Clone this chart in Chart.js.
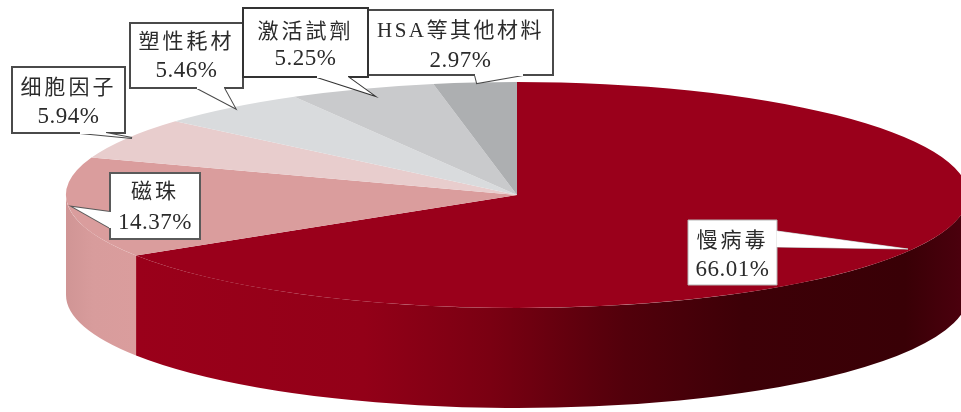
<!DOCTYPE html>
<html>
<head>
<meta charset="utf-8">
<title>3D pie</title>
<script src="https://cdn.jsdelivr.net/npm/chart.js@4"></script>
<style>
  html, body { margin: 0; padding: 0; background: #fff; }
  canvas { display: block; }
</style>
</head>
<body>
<canvas id="sharePie" width="961" height="412"></canvas>
<script>
const categories = ["慢病毒", "磁珠", "细胞因子", "塑性耗材", "激活試劑", "HSA等其他材料"];
const shares = [66.01, 14.37, 5.94, 5.46, 5.25, 2.97];
const topColors = ["#9a001b", "#da9d9d", "#e8cdcd", "#d9dbdd", "#c9cacc", "#adafb1"];

const SQUASH = 113 / 451;   // flattens the round pie into the tilted ellipse
const DEPTH = 100;          // height of the side wall

// box: x, y, w, h of the callout; tail: two base points and the tip
const callouts = [
  { box: [688, 220, 89, 65], tail: [[777, 231], [908, 249], [777, 247]], line1: 241, line2: 270, frame: "#b5b5b5", width: 1 },
  { box: [110, 173, 90, 66], tail: [[110, 212], [73, 207], [110, 228]], line1: 192, line2: 223, frame: "#5a5a5a", width: 2 },
  { box: [12, 67, 113, 66], tail: [[80, 133], [132, 138], [106, 133]], line1: 88, line2: 117, frame: "#4a4a4a", width: 2 },
  { box: [130, 23, 113, 65], tail: [[197, 88], [235, 108], [224, 88]], line1: 42, line2: 71, frame: "#4a4a4a", width: 2 },
  { box: [243, 8, 125, 69], tail: [[317, 77], [373, 95], [348, 77]], line1: 32, line2: 59, frame: "#333333", width: 2 },
  { box: [368, 10, 185, 65], tail: [[475, 75], [477, 83], [523, 75]], line1: 31, line2: 61, frame: "#4a4a4a", width: 2 }
];
// HSA goes first since the neighbouring frame overlaps it
const calloutOrder = [5, 0, 1, 2, 3, 4];

function wallGradient(ctx, index) {
  const g = ctx.createLinearGradient(66, 0, 968, 0);
  if (index === 0) {
    g.addColorStop(0.08, "#9a001a");
    g.addColorStop(0.33, "#930018");
    g.addColorStop(0.47, "#7a0012");
    g.addColorStop(0.62, "#52000b");
    g.addColorStop(0.75, "#3d0007");
    g.addColorStop(0.93, "#390006");
    g.addColorStop(1, "#4d000e");
  } else {
    g.addColorStop(0, "#d09595");
    g.addColorStop(0.03, "#d89c9c");
    g.addColorStop(0.08, "#da9d9d");
  }
  return g;
}

const tiltPlugin = {
  id: "tilt",
  beforeDatasetsDraw(chart) {
    const ctx = chart.ctx;
    const arcs = chart.getDatasetMeta(0).data;
    // side wall, only the part of each slice that faces the viewer
    arcs.forEach((arc, i) => {
      const start = Math.max(arc.startAngle, 0);
      const end = Math.min(arc.endAngle, Math.PI);
      if (end <= start) return;
      const ry = arc.outerRadius * SQUASH;
      ctx.beginPath();
      ctx.ellipse(arc.x, arc.y, arc.outerRadius, ry, 0, start, end);
      ctx.ellipse(arc.x, arc.y + DEPTH, arc.outerRadius, ry, 0, end, start, true);
      ctx.closePath();
      ctx.fillStyle = wallGradient(ctx, i);
      ctx.fill();
    });
    const cy = arcs[0].y;
    ctx.save();
    ctx.translate(0, cy);
    ctx.scale(1, SQUASH);
    ctx.translate(0, -cy);
  },
  afterDatasetsDraw(chart) {
    chart.ctx.restore();
  },
  afterDraw(chart) {
    const ctx = chart.ctx;
    calloutOrder.forEach(i => {
      const c = callouts[i];
      const [x, y, w, h] = c.box;
      ctx.beginPath();
      ctx.rect(x, y, w, h);
      ctx.fillStyle = "#fff";
      ctx.strokeStyle = c.frame;
      ctx.lineWidth = c.width;
      ctx.fill();
      ctx.stroke();
      // tail on top of the frame, white base hides the frame under it
      ctx.beginPath();
      ctx.moveTo(c.tail[0][0], c.tail[0][1]);
      ctx.lineTo(c.tail[1][0], c.tail[1][1]);
      ctx.lineTo(c.tail[2][0], c.tail[2][1]);
      ctx.stroke();
      ctx.closePath();
      ctx.fill();
      ctx.strokeStyle = "#fff";
      ctx.beginPath();
      ctx.moveTo(c.tail[0][0], c.tail[0][1]);
      ctx.lineTo(c.tail[2][0], c.tail[2][1]);
      ctx.stroke();

      ctx.fillStyle = "#2b2b2b";
      ctx.textAlign = "center";
      ctx.textBaseline = "middle";
      ctx.font = '21px "Liberation Serif", "Noto Sans CJK TC"';
      ctx.letterSpacing = i === 5 ? "2.5px" : "3px";
      ctx.fillText(categories[i], x + w / 2, c.line1);
      ctx.font = '23px "Liberation Serif"';
      ctx.letterSpacing = "0.5px";
      ctx.fillText(shares[i].toFixed(2) + "%", x + w / 2, c.line2);
      ctx.letterSpacing = "0px";
    });
  }
};

new Chart(document.getElementById("sharePie"), {
  type: "pie",
  plugins: [tiltPlugin],
  data: {
    labels: categories,
    datasets: [{
      data: shares,
      backgroundColor: topColors,
      borderWidth: 0,
      clip: false
    }]
  },
  options: {
    responsive: false,
    animation: false,
    radius: 451,
    layout: { padding: { left: 73, bottom: 22 } },
    plugins: {
      legend: { display: false },
      tooltip: { enabled: false }
    }
  }
});
</script>
</body>
</html>
